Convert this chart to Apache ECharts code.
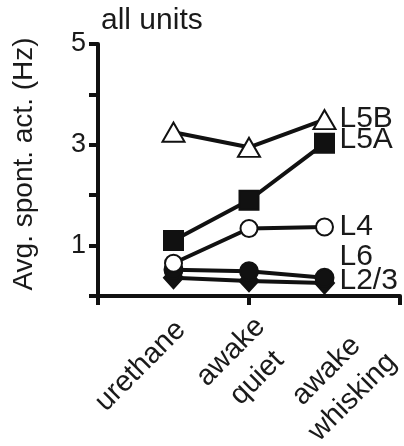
<!DOCTYPE html>
<html>
<head>
<meta charset="utf-8">
<script src="https://cdn.jsdelivr.net/npm/echarts@6/dist/echarts.min.js"></script>
<style>
  html, body { margin: 0; padding: 0; background: #fff; }
  #chart { width: 404px; height: 446px; }
</style>
</head>
<body>
<div id="chart"></div>
<script>
// Recording conditions along the x axis
const categories = ['urethane', 'awake\nquiet', 'awake\nwhisking'];
const categoryPositions = [1, 2, 3];

// Average spontaneous activity (Hz) per cortical layer
const layerNames = ['L5B', 'L5A', 'L4', 'L6', 'L2/3'];
const l5b = [3.25, 2.95, 3.50];
const l5a = [1.10, 1.90, 3.03];
const l4 = [0.65, 1.34, 1.37];
const l6 = [0.52, 0.49, 0.36];
const l23 = [0.36, 0.30, 0.26];

// Y-axis tick labels that are printed
const yTickLabels = [1, 3, 5];

const INK = '#111';
const TEXT = '#1a1a1a';
const FONT = 'Liberation Sans, Arial, Helvetica, sans-serif';

// Where each slanted condition label sits, relative to its tick on the x axis
const conditionLabelShift = [[-33, 70], [-5, 69], [15, 88]];

function points(values) {
  return values.map((v, i) => [categoryPositions[i], v]);
}

function layerSeries(name, values, symbol, size, filled, labelOffset) {
  return {
    name: name,
    type: 'line',
    data: points(values),
    symbol: symbol,
    symbolSize: size,
    showAllSymbol: true,
    lineStyle: { color: INK, width: 4 },
    itemStyle: { color: filled ? INK : '#fff', borderColor: INK, borderWidth: 2 },
    endLabel: {
      show: true,
      formatter: name,
      color: TEXT,
      fontFamily: FONT,
      fontSize: 30,
      distance: 15,
      offset: labelOffset
    },
    emphasis: { disabled: true }
  };
}

const chart = echarts.init(document.getElementById('chart'), null, { renderer: 'canvas' });

chart.setOption({
  animation: false,
  backgroundColor: '#fff',
  title: {
    text: 'all units',
    left: 96,
    top: 1,
    textStyle: { fontFamily: FONT, fontSize: 30, fontWeight: 'normal', color: TEXT }
  },
  grid: { left: 98, right: 4, top: 44, bottom: 150, containLabel: false },
  xAxis: {
    type: 'value',
    min: 0,
    max: 4,
    interval: 1,
    splitLine: { show: false },
    axisLine: { show: true, lineStyle: { color: INK, width: 4 } },
    axisTick: { show: true, customValues: [0, 2, 4], length: 9, lineStyle: { color: INK, width: 4 } },
    axisLabel: { show: false }
  },
  yAxis: {
    type: 'value',
    min: 0,
    max: 5,
    interval: 1,
    name: 'Avg. spont. act. (Hz)',
    nameLocation: 'middle',
    nameGap: 60,
    nameRotate: 90,
    nameTextStyle: { fontFamily: FONT, fontSize: 28, color: TEXT, padding: [0, 0, 0, 12] },
    splitLine: { show: false },
    axisLine: { show: true, lineStyle: { color: INK, width: 4 } },
    axisTick: { show: true, length: 9, lineStyle: { color: INK, width: 4 } },
    axisLabel: {
      margin: 12,
      fontFamily: FONT,
      fontSize: 27,
      color: TEXT,
      formatter: function (v) { return yTickLabels.indexOf(v) >= 0 ? String(v) : ''; }
    }
  },
  series: [
    layerSeries(layerNames[4], l23, 'diamond', [19, 21], true, [0, -2]),
    layerSeries(layerNames[3], l6, 'circle', 18, true, [0, -21]),
    layerSeries(layerNames[2], l4, 'circle', 17, false, [0, 0]),
    layerSeries(layerNames[1], l5a, 'rect', 19, true, [0, -4]),
    layerSeries(layerNames[0], l5b, 'triangle', [22, 19], false, [0, -1])
  ]
});

// Slanted condition names under the x axis, placed from the axis scale
const conditionLabels = categories.map(function (name, i) {
  const tick = chart.convertToPixel({ xAxisIndex: 0, yAxisIndex: 0 }, [categoryPositions[i], 0]);
  return {
    type: 'text',
    x: tick[0] + conditionLabelShift[i][0],
    y: tick[1] + conditionLabelShift[i][1],
    rotation: Math.PI / 4,
    silent: true,
    style: {
      text: name,
      fill: TEXT,
      font: '29px ' + FONT,
      lineHeight: 37,
      align: 'center',
      verticalAlign: 'middle'
    }
  };
});
chart.setOption({ graphic: conditionLabels });
</script>
</body>
</html>
